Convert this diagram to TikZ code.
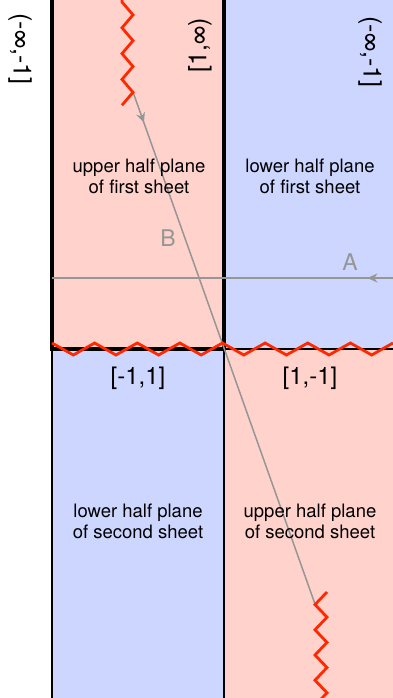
\documentclass[tikz,border=0pt]{standalone}
\usepackage{fontspec}
\setmainfont{TeX Gyre Heros}
\usetikzlibrary{arrows.meta,decorations.markings}
\definecolor{SheetPink}{RGB}{255,210,204}
\definecolor{SheetBlue}{RGB}{204,214,255}
\definecolor{CutRed}{RGB}{255,40,0}
\definecolor{PathGray}{RGB}{150,150,150}
\tikzset{
  planelabel/.style={align=center,inner sep=0pt,
    font=\fontsize{18.5}{21}\selectfont},
  intlabel/.style={inner sep=0pt,font=\fontsize{24}{27}\selectfont},
  raylabel/.style={inner sep=0pt,font=\fontsize{25}{28}\selectfont},
  pathlabel/.style={inner sep=0pt,text=PathGray,
    font=\fontsize{23}{26}\selectfont},
  sheetedge/.style={line width=4pt,draw=black,line join=miter},
  thinedge/.style={line width=1.5pt,draw=black},
  cutline/.style={line width=2.8pt,draw=CutRed,line join=miter},
  pathline/.style={line width=1.5pt,draw=PathGray},
  arrowat/.style={postaction={decorate},decoration={markings,
    mark=at position #1 with {\arrow{Stealth[length=10pt,width=9pt]}}}},
}
\begin{document}
\begin{tikzpicture}[x=1pt,y=-1pt]
  \useasboundingbox (0,0) rectangle (393,698);
  \clip (0,0) rectangle (393,698);
  % the four half planes
  \fill[SheetPink] (52,0) rectangle (224,349);
  \fill[SheetBlue] (224,0) rectangle (393,349);
  \fill[SheetBlue] (52,349) rectangle (224,698);
  \fill[SheetPink] (224,349) rectangle (393,698);
  % edges of the sheets
  \draw[thinedge] (224,349) -- (393,349);
  \draw[thinedge] (52,349) -- (52,698);
  \draw[thinedge] (224,349) -- (224,698);
  \draw[sheetedge] (52,0) -- (52,349) -- (224,349) -- (224,0);
  % paths A and B
  \coordinate (Astart) at (393,278);
  \coordinate (Aend) at (52,278);
  \coordinate (Bstart) at (133,92);
  \coordinate (Bend) at (315,604);
  \draw[pathline,arrowat=0.075] (Astart) -- (Aend);
  \draw[pathline,arrowat=0.06] (Bstart) -- (Bend);
  \node[pathlabel] (labA) at (350,262) {A};
  \node[pathlabel] (labB) at (168,238) {B};
  % branch cuts
  \draw[cutline] (52,343)
    \foreach \k in {1,...,16}{ -- ({52+\k*21.3125},{343+12*mod(\k,2)}) };
  \draw[cutline] (122,-11)
    \foreach \k in {0,...,8}{ -- ({122+11*mod(\k,2)},{2+\k*12.9}) };
  \draw[cutline] (327,592)
    \foreach \k in {1,...,9}{ -- ({327-12*mod(\k,2)},{592+\k*12.6}) };
  % labels
  \node[planelabel] (upfirst) at (139,176) {upper half plane\\of first sheet};
  \node[planelabel] (lowfirst) at (310,176) {lower half plane\\of first sheet};
  \node[planelabel] (lowsecond) at (138,521) {lower half plane\\of second sheet};
  \node[planelabel] (upsecond) at (310,521) {upper half plane\\of second sheet};
  \node[intlabel] (cutmid) at (138,378) {[-1,1]};
  \node[intlabel] (cutback) at (310,378) {[1,-1]};
  \node[raylabel,rotate=-90] (leftray) at (20,49) {(-∞,-1]};
  \node[raylabel,rotate=90] (midray) at (200,45) {[1,∞)};
  \node[raylabel,rotate=-90] (rightray) at (370,52) {(-∞,-1]};
\end{tikzpicture}
\end{document}
